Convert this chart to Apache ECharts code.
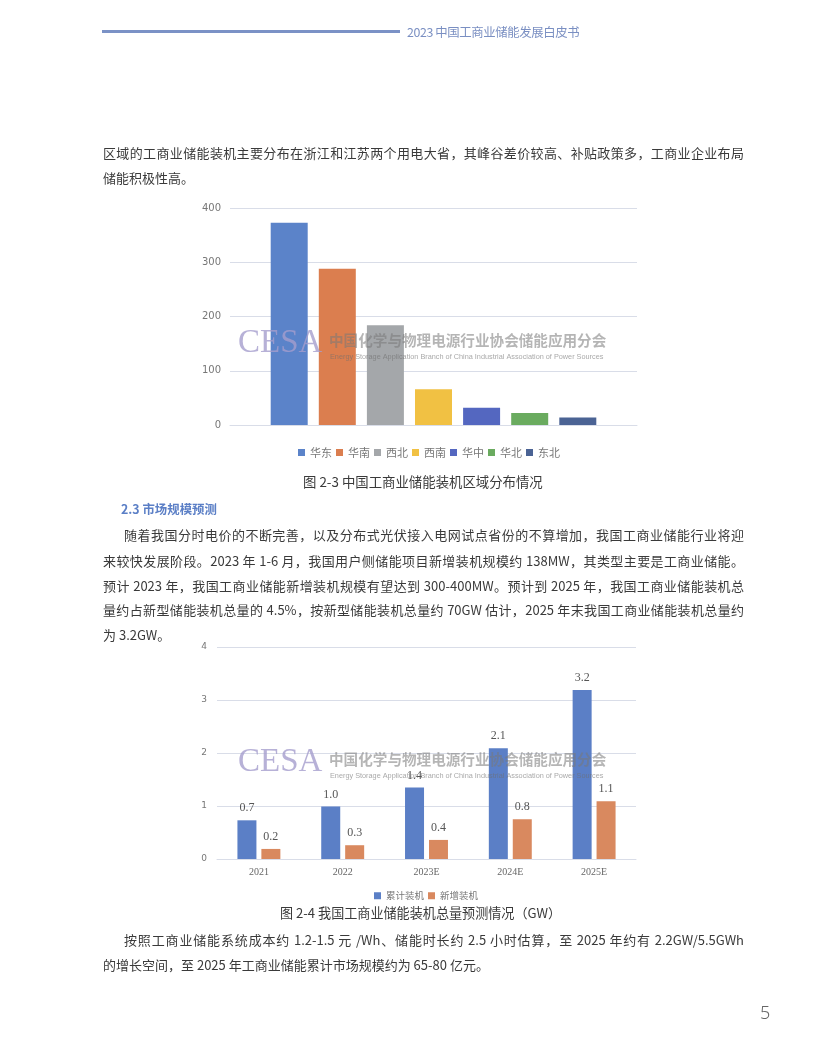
<!DOCTYPE html>
<html>
<head>
<meta charset="utf-8">
<script src="https://cdn.jsdelivr.net/npm/echarts@6/dist/echarts.min.js"></script>
<style>
  html, body { margin:0; padding:0; background:#fff; }
  #page { position:relative; width:816px; height:1056px; overflow:hidden; background:#fff; }
  #chart { position:absolute; left:0; top:0; width:816px; height:1056px; }
  .t { position:absolute; font-family:"Noto Sans CJK SC","Noto Sans",sans-serif; color:#3a3a3a; font-size:13px; height:20px; line-height:20px; white-space:nowrap; z-index:2; }
  .j { width:641px; text-align:justify; text-align-last:justify; }
  .ji { width:620px; text-align:justify; text-align-last:justify; }
</style>
</head>
<body>
<div id="page">
  <div id="chart"></div>
  <div style="position:absolute;left:102px;top:30px;width:298px;height:3px;background:#7b92c6;z-index:2;"></div>
  <div class="t" style="left:407px;top:22px;color:#7a8fc2;font-size:12.4px;letter-spacing:-0.4px;">2023 中国工商业储能发展白皮书</div>

  <div class="t j" style="left:103px;top:143px;">区域的工商业储能装机主要分布在浙江和江苏两个用电大省，其峰谷差价较高、补贴政策多，工商业企业布局</div>
  <div class="t" style="left:103px;top:168px;">储能积极性高。</div>

  <div class="t" style="left:121px;top:499px;color:#5b7fc6;font-weight:bold;font-size:12.4px;">2.3 市场规模预测</div>
  <div class="t ji" style="left:124px;top:525px;">随着我国分时电价的不断完善，以及分布式光伏接入电网试点省份的不算增加，我国工商业储能行业将迎</div>
  <div class="t j" style="left:103px;top:551px;">来较快发展阶段。2023 年 1-6 月，我国用户侧储能项目新增装机规模约 138MW，其类型主要是工商业储能。</div>
  <div class="t j" style="left:103px;top:576px;">预计 2023 年，我国工商业储能新增装机规模有望达到 300-400MW。预计到 2025 年，我国工商业储能装机总</div>
  <div class="t j" style="left:103px;top:600px;">量约占新型储能装机总量的 4.5%，按新型储能装机总量约 70GW 估计，2025 年末我国工商业储能装机总量约</div>
  <div class="t" style="left:103px;top:625px;">为 3.2GW。</div>

  <div class="t ji" style="left:124px;top:930px;">按照工商业储能系统成本约 1.2-1.5 元 /Wh、储能时长约 2.5 小时估算，至 2025 年约有 2.2GW/5.5GWh</div>
  <div class="t" style="left:103px;top:955px;">的增长空间，至 2025 年工商业储能累计市场规模约为 65-80 亿元。</div>

  <div class="t" style="left:760px;top:1000px;height:24px;line-height:24px;font-family:'Noto Sans',sans-serif;font-size:18px;color:#666;font-weight:300;">5</div>
</div>
<script>
// ---- Chart 2-3 data ----
const regions = ['华东', '华南', '西北', '西南', '华中', '华北', '东北'];
const regionValues = [373, 288, 184, 66, 32, 22, 14];
const regionColors = ['#5b83c9', '#db7e4f', '#a4a7aa', '#f1c143', '#5467c0', '#6aab5f', '#4b6394'];

// ---- Chart 2-4 data ----
const years = ['2021', '2022', '2023E', '2024E', '2025E'];
const cumulative = [0.73, 0.99, 1.35, 2.09, 3.19];
const added = [0.19, 0.26, 0.36, 0.75, 1.09];
const series2Names = ['累计装机', '新增装机'];
const series2Colors = ['#5b7fc6', '#d9895f'];

const caption1 = '图 2-3 中国工商业储能装机区域分布情况';
const caption2 = '图 2-4 我国工商业储能装机总量预测情况（GW）';

const chart = echarts.init(document.getElementById('chart'), null, { renderer: 'canvas' });

const gridLine = { lineStyle: { color: '#d9dde8', width: 1 } };

function watermark(y) {
  return [
    { type: 'text', left: 238, top: y - 19, z: 100, silent: true,
      style: { text: 'CESA', font: '33px "Liberation Serif", serif', fill: 'rgba(165,158,205,0.8)' } },
    { type: 'text', left: 329, top: y - 13, z: 100, silent: true,
      style: { text: '中国化学与物理电源行业协会储能应用分会', font: 'bold 14.6px "Noto Sans CJK SC", sans-serif', fill: 'rgba(120,120,120,0.55)' } },
    { type: 'text', left: 330, top: y + 7, z: 100, silent: true,
      style: { text: 'Energy Storage Application Branch of China Industrial Association of Power Sources', font: '7.3px "Liberation Sans", sans-serif', fill: 'rgba(110,110,110,0.6)' } }
  ];
}

const series1 = regions.map((name, i) => ({
  name: name,
  type: 'bar',
  xAxisIndex: 0, yAxisIndex: 0,
  data: [regionValues[i]],
  barWidth: 37,
  barGap: '30%',
  itemStyle: { color: regionColors[i] },
  silent: true
}));

const labelFmt = p => Number(p.value).toFixed(1);

const series2 = [cumulative, added].map((arr, i) => ({
  name: series2Names[i],
  type: 'bar',
  xAxisIndex: 1, yAxisIndex: 1,
  data: arr,
  barWidth: 19,
  barGap: '26%',
  itemStyle: { color: series2Colors[i] },
  label: { show: true, position: 'top', distance: 6, formatter: labelFmt,
           fontFamily: '"Liberation Serif", serif', fontSize: 12, color: '#555' },
  silent: true
}));

chart.setOption({
  animation: false,
  grid: [
    { left: 230, top: 208, width: 407, height: 217 },
    { left: 217, top: 647, width: 419, height: 212 }
  ],
  xAxis: [
    { gridIndex: 0, type: 'category', data: [''], axisLine: { lineStyle: { color: '#d9dde8' } },
      axisTick: { show: false }, axisLabel: { show: false } },
    { gridIndex: 1, type: 'category', data: years, axisLine: { lineStyle: { color: '#d9dde8' } },
      axisTick: { show: false },
      axisLabel: { margin: 8, fontFamily: '"Liberation Serif", serif', fontSize: 10, color: '#666' } }
  ],
  yAxis: [
    { gridIndex: 0, type: 'value', min: 0, max: 400, interval: 100, splitLine: gridLine,
      axisLine: { show: false }, axisTick: { show: false },
      axisLabel: { margin: 9, fontFamily: '"DejaVu Sans", sans-serif', fontSize: 10, color: '#777' } },
    { gridIndex: 1, type: 'value', min: 0, max: 4, interval: 1, splitLine: gridLine,
      axisLine: { show: false }, axisTick: { show: false },
      axisLabel: { margin: 10, fontFamily: '"DejaVu Sans", sans-serif', fontSize: 9, color: '#777' } }
  ],
  legend: [
    { data: regions, left: 293, top: 442, itemWidth: 7, itemHeight: 7, itemGap: 4,
      icon: 'rect', selectedMode: false,
      textStyle: { fontSize: 11, color: '#777', fontFamily: '"Noto Sans CJK SC", sans-serif' } },
    { data: series2Names, left: 369, top: 886, itemWidth: 7, itemHeight: 7, itemGap: 4,
      icon: 'rect', selectedMode: false,
      textStyle: { fontSize: 9.5, color: '#777', fontFamily: '"Noto Sans CJK SC", sans-serif' } }
  ],
  graphic: [
    { type: 'text', left: 303, top: 475, z: 50,
      style: { text: caption1, font: '13.4px "Noto Sans CJK SC", sans-serif', fill: '#3a3a3a' } },
    { type: 'text', left: 280, top: 906, z: 50,
      style: { text: caption2, font: '13.1px "Noto Sans CJK SC", sans-serif', fill: '#3a3a3a' } }
  ].concat(watermark(346), watermark(765)),
  series: series1.concat(series2)
});
</script>
</body>
</html>
